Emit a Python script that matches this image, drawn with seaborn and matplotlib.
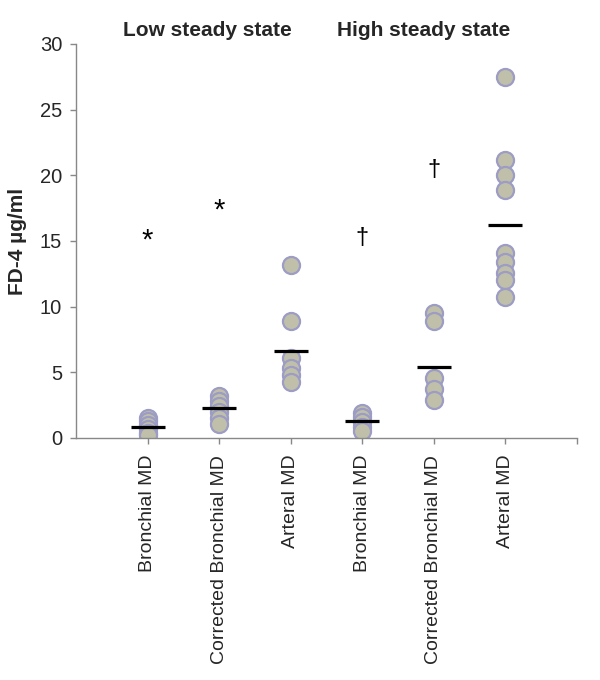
import matplotlib
matplotlib.use("Agg")
import matplotlib.pyplot as plt
import seaborn as sns
import pandas as pd

# ---- data ----
groups = ["Low steady state", "High steady state"]
categories = ["Bronchial MD", "Corrected Bronchial MD", "Arteral MD"]
low_bronchial = [1.5, 1.3, 1.0, 0.7, 0.4, 0.2]
low_corrected = [3.2, 2.8, 2.4, 2.0, 1.5, 1.1]
low_arterial = [13.2, 8.9, 6.1, 5.3, 4.8, 4.3]
high_bronchial = [1.9, 1.6, 1.2, 0.8, 0.5]
high_corrected = [9.5, 8.9, 4.6, 3.7, 2.9]
high_arterial = [27.5, 21.2, 20.0, 18.9, 14.1, 13.4, 12.6, 12.0, 10.7]
mean_values = [0.8, 2.3, 6.6, 1.3, 5.4, 16.2]
marks = ["*", "*", "", "\u2020", "\u2020", ""]
mark_y = [15.0, 17.3, None, 15.2, 20.4, None]
y_ticks = [0, 5, 10, 15, 20, 25, 30]

series = [low_bronchial, low_corrected, low_arterial,
          high_bronchial, high_corrected, high_arterial]
keys = [f"{g}|{c}" for g in groups for c in categories]
tick_labels = [c for g in groups for c in categories]

rows = []
for k, vals in zip(keys, series):
    for v in vals:
        rows.append({"key": k, "value": v})
df = pd.DataFrame(rows)
df_mean = pd.DataFrame({"key": keys, "value": mean_values})

# ---- style ----
sns.set_style("white")
plt.rcParams["font.family"] = ["Liberation Sans", "DejaVu Sans"]

fig = plt.figure(figsize=(6.0, 6.8), dpi=100)
ax = fig.add_axes([0.1267, 0.3559, 0.835, 0.5794])

sns.stripplot(data=df, x="key", y="value", order=keys, jitter=False,
              color="#C0C0AA", edgecolor="#9C9CC4", linewidth=1.6,
              size=12.3, ax=ax, zorder=2)
sns.pointplot(data=df_mean, x="key", y="value", order=keys,
              errorbar=None, linestyle="none", marker="_",
              markersize=24, markeredgewidth=2.3, color="black",
              ax=ax, zorder=3)

ax.set_xlim(-1, 6)
ax.set_ylim(0, 30)
ax.set_yticks(y_ticks)
ax.set_xticks(range(0, 7))
ax.set_xticklabels(tick_labels + [""], rotation=90, fontsize=14)
ax.tick_params(axis="y", labelsize=14.5, length=4, width=1, color="#888888",
               direction="out", left=True, pad=6)
ax.tick_params(axis="x", length=4, width=1, color="#888888",
               direction="out", bottom=True, pad=8)
ax.set_xlabel("")
ax.set_ylabel("FD-4 \u00b5g/ml", fontsize=15, fontweight="bold", labelpad=9)
for s in ["top", "right"]:
    ax.spines[s].set_visible(False)
for s in ["left", "bottom"]:
    ax.spines[s].set_color("#888888")
    ax.spines[s].set_linewidth(1)

for i, (m, yv) in enumerate(zip(marks, mark_y)):
    if m:
        ax.text(i, yv, m, ha="center", va="center",
                fontsize=21 if m == "*" else 17, color="black")

ax.text(0.84, 1.035, groups[0], transform=ax.get_xaxis_transform(),
        ha="center", va="center", fontsize=15, fontweight="bold", clip_on=False)
ax.text(3.86, 1.035, groups[1], transform=ax.get_xaxis_transform(),
        ha="center", va="center", fontsize=15, fontweight="bold", clip_on=False)

fig.savefig("out.png", dpi=100)
